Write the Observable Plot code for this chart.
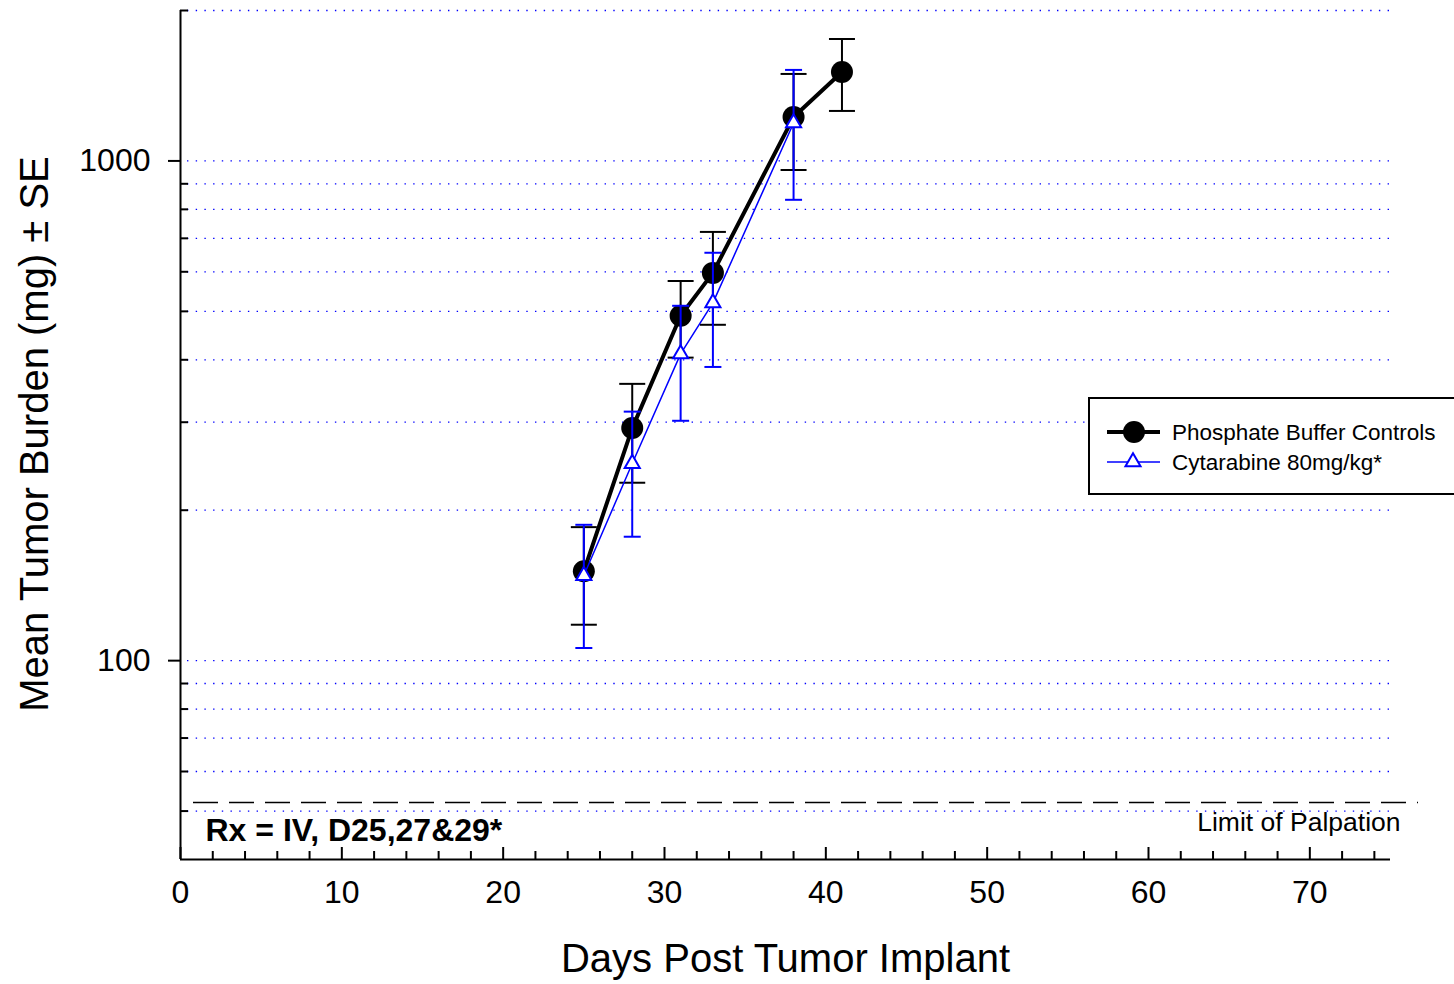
<!DOCTYPE html>
<html>
<head>
<meta charset="utf-8">
<script src="https://cdn.jsdelivr.net/npm/d3@7"></script>
<script src="https://cdn.jsdelivr.net/npm/@observablehq/plot@0.6"></script>
<style>
  html, body { margin: 0; padding: 0; background: #fff; overflow: hidden; }
  #wrap { position: relative; width: 1454px; height: 984px; font-family: "Liberation Sans", Arial, sans-serif; }
  #legend { position: absolute; left: 1088px; top: 397px; width: 400px; height: 94px; border: 2px solid #000; background: #fff; }
  #legend svg { display: block; }
</style>
</head>
<body>
<div id="wrap"><div id="chart"></div><div id="legend"></div></div>
<script>
// ---- data ----
const days = [25, 28, 31, 33, 38, 41];
const controlMean = [151, 292, 490, 597, 1224, 1507];
const controlHi   = [185, 358, 575, 721, 1493, 1754];
const controlLo   = [118, 227, 404, 470, 959, 1259];

const cytDays = [25, 28, 31, 33, 38];
const cytMean = [148, 248, 411, 520, 1191];
const cytHi   = [187, 315, 513, 655, 1521];
const cytLo   = [106, 177, 302, 387, 836];

const seriesNames = ["Phosphate Buffer Controls", "Cytarabine 80mg/kg*"];
const limitOfPalpation = 52;

const xMajorTicks = [0, 10, 20, 30, 40, 50, 60, 70];
const xMinorTicks = d3.range(2, 75, 2).filter(d => d % 10 !== 0);
const yMajorTicks = [100, 1000];
const yMinorTicks = [50, 60, 70, 80, 90, 200, 300, 400, 500, 600, 700, 800, 900, 2000];
const gridValues = [50, 60, 70, 80, 90, 100, 200, 300, 400, 500, 600, 700, 800, 900, 1000, 2000];

const xTitle = "Days Post Tumor Implant";
const yTitle = "Mean Tumor Burden (mg) ± SE";
const rxNote = "Rx = IV, D25,27&29*";
const limitLabel = "Limit of Palpation";

// ---- tables ----
const control = days.map((d, i) => ({day: d, mean: controlMean[i], hi: controlHi[i], lo: controlLo[i]}));
const cyt = cytDays.map((d, i) => ({day: d, mean: cytMean[i], hi: cytHi[i], lo: cytLo[i]}));

// horizontal cap symbol for error bars
const capSymbol = {
  draw(context, size) {
    const h = Math.sqrt(size / Math.PI);
    context.moveTo(-h, 0);
    context.lineTo(h, 0);
  }
};

const errorBars = (data, color, capR) => [
  Plot.ruleX(data, {x: "day", y1: "lo", y2: "hi", stroke: color, strokeWidth: 2}),
  Plot.dot(data, {x: "day", y: "hi", symbol: capSymbol, r: capR, stroke: color, fill: "none", strokeWidth: 2}),
  Plot.dot(data, {x: "day", y: "lo", symbol: capSymbol, r: capR, stroke: color, fill: "none", strokeWidth: 2})
];

const chart = Plot.plot({
  width: 1454,
  height: 984,
  marginLeft: 180,
  marginRight: 64,
  marginTop: 10,
  marginBottom: 125,
  style: {fontFamily: "'Liberation Sans', Arial, sans-serif", background: "#fff", color: "#000"},
  x: {domain: [0, 75]},
  y: {type: "log", domain: [40, 2000]},
  marks: [
    // dotted blue grid
    Plot.ruleY(gridValues, {stroke: "#0000ff", strokeWidth: 1.3, strokeDasharray: "1.4,7.3", insetLeft: 7}),
    // limit of palpation
    Plot.ruleY([limitOfPalpation], {stroke: "#000", strokeWidth: 1.5, strokeDasharray: "25,11", insetLeft: 13, insetRight: -28}),
    Plot.text([limitOfPalpation], {y: d => d, text: () => limitLabel, frameAnchor: "right", textAnchor: "end", dx: 10, dy: 20, fontSize: 26.5, fill: "#000"}),
    // axis lines
    Plot.ruleX([0], {stroke: "#000", strokeWidth: 2}),
    Plot.ruleY([40], {stroke: "#000", strokeWidth: 2}),
    // y axis
    Plot.axisY({ticks: yMajorTicks, tickSize: 12, tickPadding: 18, fontSize: 32, tickFormat: d => String(d), label: null, strokeWidth: 2}),
    Plot.axisY({ticks: yMinorTicks, tickSize: -8, tickFormat: () => "", label: null, strokeWidth: 2}),
    // x axis
    Plot.axisX({ticks: xMajorTicks, tickSize: 0, tickPadding: 21, fontSize: 32, tickFormat: d => String(d), label: null}),
    Plot.axisX({ticks: xMajorTicks, tickSize: -12, tickFormat: () => "", label: null, strokeWidth: 2}),
    Plot.axisX({ticks: xMinorTicks, tickSize: -8, tickFormat: () => "", label: null, strokeWidth: 2}),
    // titles & notes
    Plot.text([yTitle], {frameAnchor: "left", textAnchor: "middle", dx: -145, dy: -1, rotate: -90, fontSize: 40, fill: "#000"}),
    Plot.text([xTitle], {frameAnchor: "bottom", dy: 112, fontSize: 40, fill: "#000"}),
    Plot.text([rxNote], {frameAnchor: "bottom-left", textAnchor: "start", dx: 25, dy: -19, fontSize: 32, fontWeight: "bold", fill: "#000"}),
    // control series
    ...errorBars(control, "#000", 13),
    Plot.line(control, {x: "day", y: "mean", stroke: "#000", strokeWidth: 4}),
    Plot.dot(control, {x: "day", y: "mean", r: 11, fill: "#000", stroke: "none"}),
    // cytarabine series
    ...errorBars(cyt, "#0000ff", 8.5),
    Plot.line(cyt, {x: "day", y: "mean", stroke: "#0000ff", strokeWidth: 1.5}),
    Plot.dot(cyt, {x: "day", y: "mean", symbol: "triangle", r: 5.6, fill: "#fff", stroke: "#0000ff", strokeWidth: 2})
  ]
});
document.getElementById("chart").appendChild(chart);

// ---- legend ----
const ns = "http://www.w3.org/2000/svg";
const lsvg = d3.select("#legend").append("svg").attr("xmlns", ns).attr("width", 400).attr("height", 94);
const rows = [
  {name: seriesNames[0], y: 33, stroke: "#000", sw: 4, kind: "circle"},
  {name: seriesNames[1], y: 63, stroke: "#0000ff", sw: 1.5, kind: "triangle"}
];
rows.forEach(r => {
  lsvg.append("line").attr("x1", 17).attr("x2", 70).attr("y1", r.y).attr("y2", r.y)
    .attr("stroke", r.stroke).attr("stroke-width", r.sw);
  if (r.kind === "circle") {
    lsvg.append("circle").attr("cx", 44).attr("cy", r.y).attr("r", 11).attr("fill", "#000");
  } else {
    lsvg.append("path").attr("transform", `translate(43,${r.y})`)
      .attr("d", d3.symbol(d3.symbolTriangle, 5.6 * 5.6 * Math.PI)())
      .attr("fill", "#fff").attr("stroke", "#0000ff").attr("stroke-width", 2);
  }
  lsvg.append("text").attr("x", 82).attr("y", r.y + 8).attr("font-size", 22.5)
    .attr("font-family", "'Liberation Sans', Arial, sans-serif").attr("fill", "#000").text(r.name);
});
</script>
</body>
</html>
